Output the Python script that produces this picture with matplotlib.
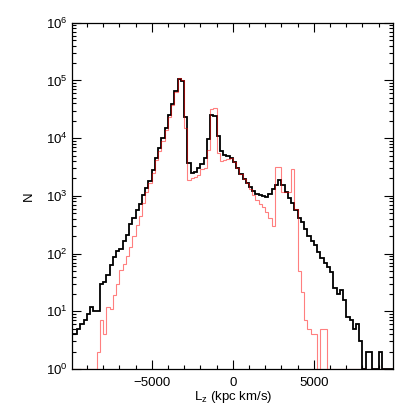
import numpy as np
import matplotlib
matplotlib.use('Agg')
import matplotlib.pyplot as plt
from matplotlib.ticker import FixedLocator, MultipleLocator, LogLocator, NullFormatter

plt.rcParams['font.family'] = ['Liberation Sans', 'DejaVu Sans']
plt.rcParams['mathtext.fontset'] = 'custom'
plt.rcParams['mathtext.rm'] = 'Liberation Sans'
plt.rcParams['mathtext.it'] = 'Liberation Sans:italic'
plt.rcParams['mathtext.default'] = 'regular'

# bin edges of the L_z histogram (kpc km/s), 200 wide
edges = np.arange(-10000, 10001, 200)
xticks = [-5000, 0, 5000]

# counts per bin, full sample (black)
n_all = [4, 4, 5, 6, 7, 9, 12, 10, 10, 30,
         32, 43, 63, 87, 110, 120, 165, 210, 320, 410,
         570, 730, 1050, 1350, 1790, 2800, 4600, 6700, 10000, 15200,
         25000, 38600, 64600, 105000, 98000, 23000, 3780, 2460, 2620, 3080,
         3540, 4500, 9700, 25500, 24500, 10900, 5900, 5100, 4900, 4500,
         3800, 3000, 2400, 1970, 1650, 1400, 1200, 1080, 1040, 990,
         960, 1070, 1300, 1550, 1870, 1550, 1150, 900, 760, 560,
         420, 350, 270, 200, 165, 138, 105, 85, 70, 58,
         47, 25, 20, 23, 16, 8, 7, 5, 6, 3,
         1, 2, 2, 1, 1, 2, 1, 1, 1, 1]

# counts per bin, second sample (red)
n_sub = [1, 1, 1, 1, 1, 1, 1, 1, 2, 7,
         4, 12, 11, 19, 30, 52, 66, 90, 130, 205,
         310, 450, 740, 1150, 1650, 2500, 4100, 6000, 9000, 14000,
         23500, 37000, 64000, 110000, 100000, 15000, 1890, 2000, 2130, 2300,
         2900, 3000, 6200, 32500, 33000, 5500, 4000, 4100, 4400, 4600,
         3800, 3000, 2400, 1970, 1650, 1300, 1050, 850, 720, 630,
         520, 420, 300, 3200, 3200, 1180, 1180, 1180, 2930, 600,
         49, 22, 7, 5, 4, 4, 1, 5, 5, 1,
         1, 1, 1, 1, 1, 1, 1, 1, 1, 1,
         1, 1, 1, 1, 1, 1, 1, 1, 1, 1]

fig = plt.figure(figsize=(4.15, 4.15), dpi=100)
ax = fig.add_axes([72.3/415, 1-369/415, 321/415, 346.3/415])

ax.stairs(n_all, edges, baseline=None, color='black', lw=1.3, zorder=2)
ax.stairs(n_sub, edges, baseline=None, color='red', alpha=0.5, lw=0.8, zorder=3)

ax.set_yscale('log')
ax.set_xlim(-9900, 9900)
ax.set_ylim(1, 1e6)

ax.xaxis.set_major_locator(FixedLocator(xticks))
ax.xaxis.set_minor_locator(MultipleLocator(1000))
ax.xaxis.set_minor_formatter(NullFormatter())
ax.yaxis.set_major_locator(LogLocator(base=10, numticks=10))
ax.yaxis.set_minor_locator(LogLocator(base=10, subs=np.arange(2, 10), numticks=20))
ax.yaxis.set_minor_formatter(NullFormatter())
ax.xaxis.offsetText.set_visible(False)
ax.yaxis.offsetText.set_visible(False)

ax.tick_params(which='both', direction='in', top=True, right=True,
               labelsize=9.5, width=0.8, colors='black')
ax.tick_params(which='major', length=6.5)
ax.tick_params(which='minor', length=3)
ax.tick_params(axis='x', pad=6)
for s in ax.spines.values():
    s.set_linewidth(0.9)

ax.set_xlabel('L$_{z}$ (kpc km/s)', fontsize=9.5, labelpad=0)
ax.set_ylabel('N', fontsize=9.5, labelpad=8)

fig.savefig('out.png', dpi=100)
